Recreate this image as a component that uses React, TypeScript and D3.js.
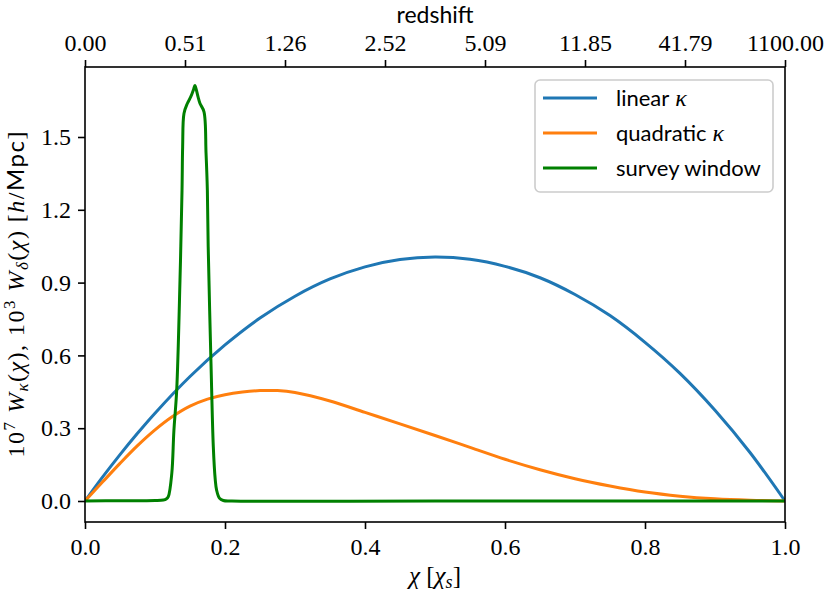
import React, { useEffect, useRef } from "react";
import * as d3 from "d3";

const W = 830;
const H = 597;
const PL = 85, PR = 785, PT = 67, PB = 522;

// linear kappa
const linX = [0, 0.025, 0.05, 0.075, 0.1, 0.15, 0.2, 0.25, 0.3, 0.35, 0.4, 0.45, 0.5, 0.55, 0.6, 0.65, 0.7, 0.75, 0.8, 0.85, 0.9, 0.95, 1.0];
const linY = [0, 0.098, 0.191, 0.279, 0.362, 0.513, 0.643, 0.754, 0.844, 0.915, 0.965, 0.995, 1.005, 0.996, 0.967, 0.92, 0.851, 0.764, 0.654, 0.526, 0.374, 0.2, 0];

// quadratic kappa
const quadX = [0, 0.025, 0.05, 0.075, 0.1, 0.125, 0.15, 0.175, 0.2, 0.225, 0.25, 0.275, 0.3, 0.35, 0.4, 0.45, 0.5, 0.55, 0.6, 0.65, 0.7, 0.75, 0.8, 0.85, 0.9, 0.95, 1.0];
const quadY = [0, 0.078, 0.155, 0.228, 0.293, 0.348, 0.391, 0.42, 0.438, 0.449, 0.455, 0.455, 0.447, 0.412, 0.365, 0.318, 0.27, 0.221, 0.172, 0.129, 0.092, 0.062, 0.037, 0.02, 0.009, 0.003, 0];

// survey window
const winX = [0, 0.05, 0.1, 0.112, 0.116, 0.119, 0.124, 0.127, 0.131, 0.1357, 0.1386, 0.1395, 0.1414, 0.1462, 0.151, 0.155, 0.157, 0.159, 0.1615, 0.1643, 0.17, 0.1729, 0.1748, 0.176, 0.18, 0.1833, 0.186, 0.188, 0.192, 0.1976, 0.21, 0.5, 1.0];
const winY = [0, 0.001, 0.002, 0.004, 0.008, 0.018, 0.114, 0.29, 0.457, 0.91, 1.28, 1.46, 1.597, 1.638, 1.665, 1.695, 1.712, 1.695, 1.665, 1.638, 1.604, 1.434, 1.28, 1.048, 0.568, 0.224, 0.09, 0.045, 0.012, 0.002, 0, 0, 0];

const xTicks = [0, 0.2, 0.4, 0.6, 0.8, 1.0];
const yTicks = [0, 0.3, 0.6, 0.9, 1.2, 1.5];
const redshiftLabels = ["0.00", "0.51", "1.26", "2.52", "5.09", "11.85", "41.79", "1100.00"];

const seriesNames = ["linear", "quadratic", "survey window"];
const seriesColors = ["#1f77b4", "#ff7f0e", "#008000"];

const SERIF = "Liberation Serif, Times New Roman, DejaVu Serif, Noto Serif, serif";
const SANS = "Lato, DejaVu Sans, sans-serif";

export default function App() {
  const bottomRef = useRef<SVGGElement>(null);
  const leftRef = useRef<SVGGElement>(null);
  const topRef = useRef<SVGGElement>(null);

  const x = d3.scaleLinear().domain([0, 1]).range([PL, PR]);
  const y = d3.scaleLinear().domain([0, 1.5]).range([501, 137]);

  const line = d3
    .line<[number, number]>()
    .x((d) => x(d[0]))
    .y((d) => y(d[1]))
    .curve(d3.curveCatmullRom.alpha(0.5));

  const lin = line(linX.map((v, i) => [v, linY[i]] as [number, number]));
  const quad = line(quadX.map((v, i) => [v, quadY[i]] as [number, number]));
  const win = line(winX.map((v, i) => [v, winY[i]] as [number, number]));

  useEffect(() => {
    document.body.style.margin = "0";
    const style = (g: d3.Selection<SVGGElement, unknown, null, undefined>) => {
      g.select(".domain").remove();
      g.selectAll(".tick line").attr("stroke", "#000").attr("stroke-width", 1.6);
      g.selectAll(".tick text").attr("fill", "#000").style("font-family", SERIF).style("font-size", "24px");
      g.attr("font-family", null).attr("font-size", null);
    };
    const xTop = d3.scaleLinear().domain([0, 7]).range([PL, PR]);
    d3.select(bottomRef.current!)
      .call(d3.axisBottom(x).tickValues(xTicks).tickFormat(d3.format(".1f")).tickSize(7).tickPadding(9))
      .call(style as any);
    d3.select(leftRef.current!)
      .call(d3.axisLeft(y).tickValues(yTicks).tickFormat(d3.format(".1f")).tickSize(7).tickPadding(7))
      .call(style as any);
    d3.select(topRef.current!)
      .call(
        d3
          .axisTop(xTop)
          .tickValues(d3.range(8))
          .tickFormat((_d, i) => redshiftLabels[i])
          .tickSize(7)
          .tickPadding(9)
      )
      .call(style as any);
  }, []);

  const legendRows = [98, 133, 168];
  const serifStyle = { fontFamily: SERIF };
  const sansStyle = { fontFamily: SANS };

  return (
    <svg width={W} height={H} style={{ display: "block", background: "#fff" }}>
      <defs>
        <clipPath id="plotclip">
          <rect x={PL} y={PT} width={PR - PL} height={PB - PT} />
        </clipPath>
      </defs>
      <g clipPath="url(#plotclip)" fill="none" strokeWidth={3} strokeLinejoin="round" strokeLinecap="butt">
        <path d={lin ?? ""} stroke={seriesColors[0]} />
        <path d={quad ?? ""} stroke={seriesColors[1]} />
        <path d={win ?? ""} stroke={seriesColors[2]} />
      </g>
      <rect x={PL} y={PT} width={PR - PL} height={PB - PT} fill="none" stroke="#000" strokeWidth={1.6} />
      <g ref={bottomRef} transform={`translate(0,${PB})`} />
      <g ref={leftRef} transform={`translate(${PL},0)`} />
      <g ref={topRef} transform={`translate(0,${PT})`} />

      <text x={435} y={23} textAnchor="middle" style={sansStyle} fontSize={23} fill="#000">
        redshift
      </text>

      <text x={435} y={584} textAnchor="middle" style={serifStyle} fontSize={25} fill="#000">
        <tspan fontStyle="italic">χ</tspan>
        <tspan> [</tspan>
        <tspan fontStyle="italic">χ</tspan>
        <tspan fontStyle="italic" fontSize={18} dy={4}>s</tspan>
        <tspan dy={-4}>]</tspan>
      </text>

      <text
        transform={`translate(24,${(PT + PB) / 2}) rotate(-90)`}
        textAnchor="middle"
        style={serifStyle}
        fontSize={24}
        fill="#000"
        textLength={326}
        lengthAdjust="spacing"
      >
        <tspan>10</tspan>
        <tspan fontSize={17} dy={-9}>7</tspan>
        <tspan dy={9}> </tspan>
        <tspan fontStyle="italic">W</tspan>
        <tspan fontStyle="italic" fontSize={17} dy={4}>κ</tspan>
        <tspan dy={-4}>(</tspan>
        <tspan fontStyle="italic">χ</tspan>
        <tspan>), 10</tspan>
        <tspan fontSize={17} dy={-9}>3</tspan>
        <tspan dy={9}> </tspan>
        <tspan fontStyle="italic">W</tspan>
        <tspan fontStyle="italic" fontSize={17} dy={4}>δ</tspan>
        <tspan dy={-4}>(</tspan>
        <tspan fontStyle="italic">χ</tspan>
        <tspan>) [</tspan>
        <tspan fontStyle="italic">h</tspan>
        <tspan>/</tspan>
        <tspan style={sansStyle}>Mpc</tspan>
        <tspan>]</tspan>
      </text>

      <g>
        <rect x={535} y={80} width={238} height={112} rx={5} fill="#fff" fillOpacity={0.8} stroke="#cccccc" strokeWidth={1.6} />
        {seriesNames.map((name, i) => (
          <g key={name}>
            <line x1={543} x2={597} y1={legendRows[i]} y2={legendRows[i]} stroke={seriesColors[i]} strokeWidth={3} />
            <text x={616} y={legendRows[i] + 8} style={sansStyle} fontSize={22} fill="#000">
              {name}
              {i < 2 ? (
                <tspan style={serifStyle} fontStyle="italic" fontSize={24}>
                  {" κ"}
                </tspan>
              ) : null}
            </text>
          </g>
        ))}
      </g>
    </svg>
  );
}
